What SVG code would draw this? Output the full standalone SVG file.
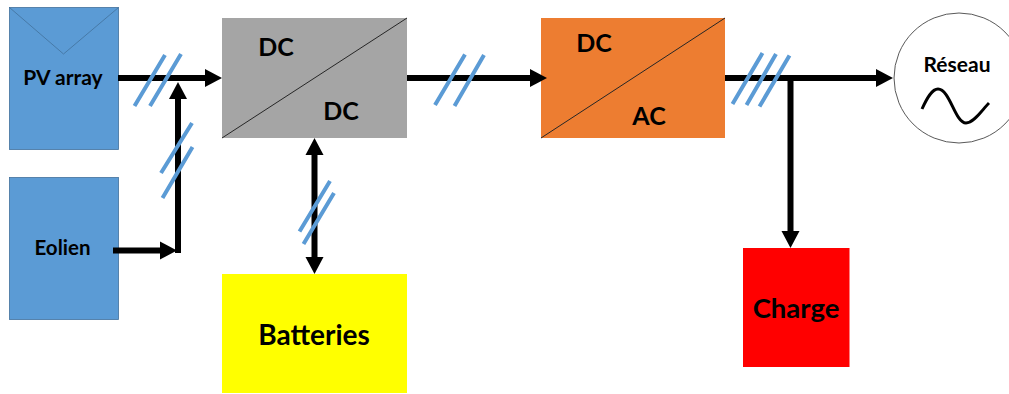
<svg xmlns="http://www.w3.org/2000/svg" width="1009" height="394" viewBox="0 0 1009 394">
<style>
text{font-family:Lato,"Liberation Sans",sans-serif;font-weight:700;fill:#000;text-anchor:middle}
.w{stroke:#000;stroke-width:6;fill:none}
.s{stroke:#5b9bd5;stroke-width:4;fill:none}
.d{stroke:#262626;stroke-width:1;fill:none}
.b{fill:#5b9bd5;stroke:#41719c;stroke-width:.8}
</style>
<defs>
<path id="h" d="M0 0L-17 -9L-17 9Z" fill="#000"/>
</defs>
<g id="pv"><rect class="b" x="9.500" y="7.500" width="109" height="142"/><path d="M9.500 7.500L63.500 54L118.500 7.500" fill="none" stroke="#41719c" stroke-width=".8"/><text x="63" y="85" font-size="21">PV array</text></g>
<g id="eolien"><rect class="b" x="9.500" y="177.500" width="109" height="142"/><text x="62.500" y="255" font-size="20.500">Eolien</text></g>
<g id="dcdc"><rect x="222" y="18" width="185" height="120" fill="#a5a5a5"/><path class="d" d="M222 138L407 18"/><text x="276" y="56" font-size="25">DC</text><text x="341" y="120" font-size="25">DC</text></g>
<g id="dcac"><rect x="541" y="18" width="184" height="120" fill="#ed7d31"/><path class="d" d="M541 138L725 18"/><text x="594" y="52" font-size="25">DC</text><text x="649" y="125" font-size="25">AC</text></g>
<g id="batteries"><rect x="222" y="274" width="185" height="119" fill="#ff0"/><text x="314" y="345" font-size="28">Batteries</text></g>
<g id="charge"><rect x="743" y="248" width="106.500" height="119" fill="#f00"/><text x="796" y="318" font-size="27.500">Charge</text></g>
<g id="reseau"><circle cx="959" cy="78" r="65" fill="#fff" stroke="#595959" stroke-width="1"/><text x="957" y="72" font-size="21">Réseau</text><path d="M922 109C927 98 932 89 938 89C950 89 955 123 966 123C974 123 982 110 989 103" fill="none" stroke="#000" stroke-width="3"/></g>
<g id="connectors">
<path class="w" d="M118 78H210"/><use href="#h" transform="translate(222 78)"/>
<path class="w" d="M113 250.500H170"/><use href="#h" transform="translate(177 250.500)"/>
<path class="w" d="M178 253V95"/><use href="#h" transform="translate(178 82) rotate(-90)"/>
<path class="w" d="M314.500 150V262"/><use href="#h" transform="translate(314.500 138) rotate(-90)"/><use href="#h" transform="translate(314.500 274) rotate(90)"/>
<path class="w" d="M407 78H535"/><use href="#h" transform="translate(547 78)"/>
<path class="w" d="M725 78H881"/><use href="#h" transform="translate(893 78)"/>
<path class="w" d="M790.500 78V236"/><use href="#h" transform="translate(790.500 248) rotate(90)"/>
<path class="s" d="M134.500 106L165 55M150 106L181 54M161 173L192 123M162.500 198L192.500 147M299.500 231.500L330 181M303.500 244L334 193M435 105L465 54.500M454.500 106L484 55M732.500 104L762.500 53M746.500 105L776 54M759.500 106.500L789.500 55.500"/>
</g>
</svg>
